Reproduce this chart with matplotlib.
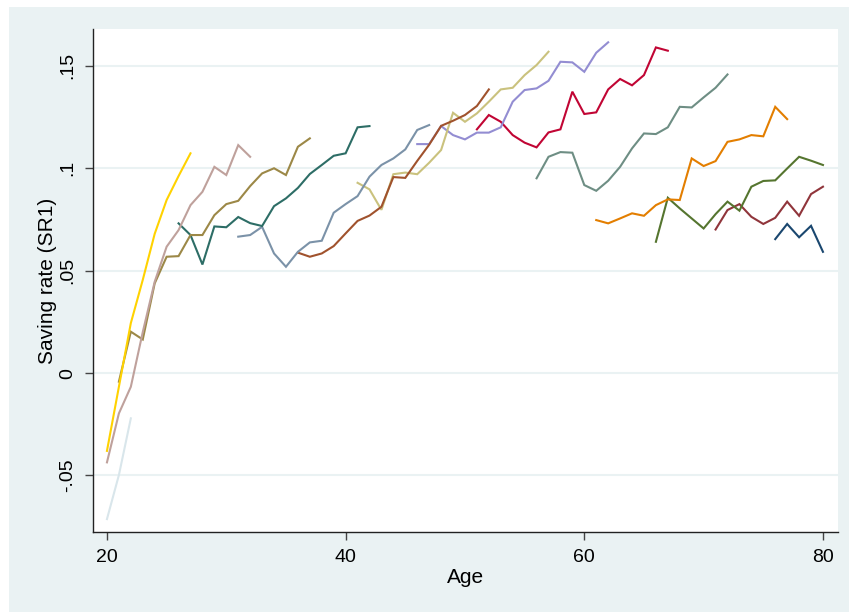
import numpy as np
import matplotlib
matplotlib.use("Agg")
import matplotlib.pyplot as plt
from matplotlib.patches import Rectangle

plt.rcParams['font.family'] = ['Liberation Sans', 'DejaVu Sans']

# Saving rate (SR1) by age, one line per cohort: (first age, values)
navy = (76, [0.0654, 0.0728, 0.0663, 0.0719, 0.0592])
maroon = (71, [0.0701, 0.0796, 0.0825, 0.0763, 0.0728, 0.0758, 0.0837, 0.0768, 0.0874, 0.0910])
forest_green = (66, [0.0641, 0.0856, 0.0804, 0.0755, 0.0706, 0.0776, 0.0837, 0.0793, 0.0910, 0.0938,
                     0.0941, 0.0999, 0.1056, 0.1037, 0.1016])
dkorange = (61, [0.0747, 0.0731, 0.0755, 0.0780, 0.0768, 0.0820, 0.0848, 0.0845, 0.1048, 0.1011,
                 0.1035, 0.1129, 0.1141, 0.1162, 0.1156, 0.1300, 0.1240])
teal = (56, [0.0951, 0.1056, 0.1079, 0.1076, 0.0918, 0.0890, 0.0939, 0.1007, 0.1097, 0.1170,
             0.1167, 0.1200, 0.1300, 0.1297, 0.1346, 0.1393, 0.1458])
cranberry = (51, [0.1190, 0.1260, 0.1227, 0.1162, 0.1125, 0.1102, 0.1175, 0.1190, 0.1374, 0.1265,
                  0.1273, 0.1385, 0.1436, 0.1405, 0.1455, 0.1590, 0.1574])
lavender = (46, [0.1118, 0.1118, 0.1206, 0.1162, 0.1141, 0.1174, 0.1174, 0.1200, 0.1325, 0.1382,
                 0.1390, 0.1427, 0.1520, 0.1517, 0.1471, 0.1564, 0.1615])
khaki = (41, [0.0929, 0.0897, 0.0797, 0.0971, 0.0979, 0.0971, 0.1027, 0.1089, 0.1271, 0.1227,
              0.1268, 0.1325, 0.1385, 0.1393, 0.1455, 0.1504, 0.1569])
sienna = (36, [0.0588, 0.0568, 0.0584, 0.0620, 0.0682, 0.0743, 0.0769, 0.0812, 0.0957, 0.0953,
               0.1036, 0.1115, 0.1207, 0.1232, 0.1260, 0.1304, 0.1385])
emidblue = (31, [0.0666, 0.0674, 0.0714, 0.0584, 0.0519, 0.0592, 0.0638, 0.0646, 0.0783, 0.0825,
                 0.0864, 0.0959, 0.1016, 0.1048, 0.1092, 0.1187, 0.1211])
emerald = (26, [0.0731, 0.0674, 0.0530, 0.0716, 0.0712, 0.0762, 0.0732, 0.0718, 0.0815, 0.0853,
                0.0904, 0.0972, 0.1016, 0.1061, 0.1073, 0.1200, 0.1206])
brown = (21, [-0.0042, 0.0202, 0.0164, 0.0438, 0.0568, 0.0571, 0.0674, 0.0674, 0.0771, 0.0825,
              0.0841, 0.0913, 0.0975, 0.1000, 0.0967, 0.1105, 0.1146])
erose = (20, [-0.0436, -0.0197, -0.0067, 0.0200, 0.0446, 0.0617, 0.0698, 0.0820, 0.0885, 0.1007,
              0.0967, 0.1113, 0.1056])
gold = (20, [-0.0380, -0.0067, 0.0244, 0.0455, 0.0680, 0.0845, 0.0962, 0.1073])
bluishgray = (20, [-0.0713, -0.0498, -0.0221])

cohorts = [navy, maroon, forest_green, dkorange, teal, cranberry, lavender, khaki,
           sienna, emidblue, emerald, brown, erose, gold, bluishgray]
# Stata s2color palette, in plotting order
colors = ['#1a476f', '#90353b', '#55752f', '#e37e00', '#6e8e84', '#c10534', '#938dd2', '#cac27e',
          '#a0522d', '#7b92a8', '#2d6d66', '#9c8847', '#bfa19c', '#ffd200', '#d9e6eb']

yticks = [-0.05, 0, 0.05, 0.1, 0.15]
ytick_labels = ['-.05', '0', '.05', '.1', '.15']
xticks = [20, 40, 60, 80]

W, H = 849, 612
fig = plt.figure(figsize=(W / 100, H / 100), dpi=100, facecolor='white')
# light outer graph region, behind the axes
bg = Rectangle((9 / W, 0), 1 - 9 / W, 1 - 7 / H, transform=fig.transFigure,
               facecolor='#eaf2f3', edgecolor='none', zorder=-10)
fig.add_artist(bg)

ax = fig.add_axes([93 / W, (H - 532) / H, (838 - 93) / W, (532 - 29) / H])
ax.set_facecolor('white')

for (start, vals), c in zip(cohorts, colors):
    ages = np.arange(start, start + len(vals))
    ax.plot(ages, vals, color=c, lw=1.5, solid_joinstyle='miter')

ax.set_xlim(18.83, 81.26)
ax.set_ylim(-0.0776, 0.168)

ax.set_yticks(yticks)
ax.set_yticklabels(ytick_labels, rotation=90, va='center')
ax.set_xticks(xticks)
ax.grid(axis='y', color='#eaf2f3', lw=1.5)
ax.set_axisbelow(True)

for s in ['top', 'right']:
    ax.spines[s].set_visible(False)
for s in ['left', 'bottom']:
    ax.spines[s].set_color('#222222')
    ax.spines[s].set_linewidth(1.0)

ax.tick_params(axis='both', length=6, width=1, color='#444444', labelsize=14)
ax.tick_params(axis='y', pad=6)
ax.tick_params(axis='x', pad=6)

ax.set_xlabel('Age', fontsize=15, labelpad=2)
ax.set_ylabel('Saving rate (SR1)', fontsize=15, labelpad=2)

fig.savefig('out.png', dpi=100, facecolor=fig.get_facecolor())
